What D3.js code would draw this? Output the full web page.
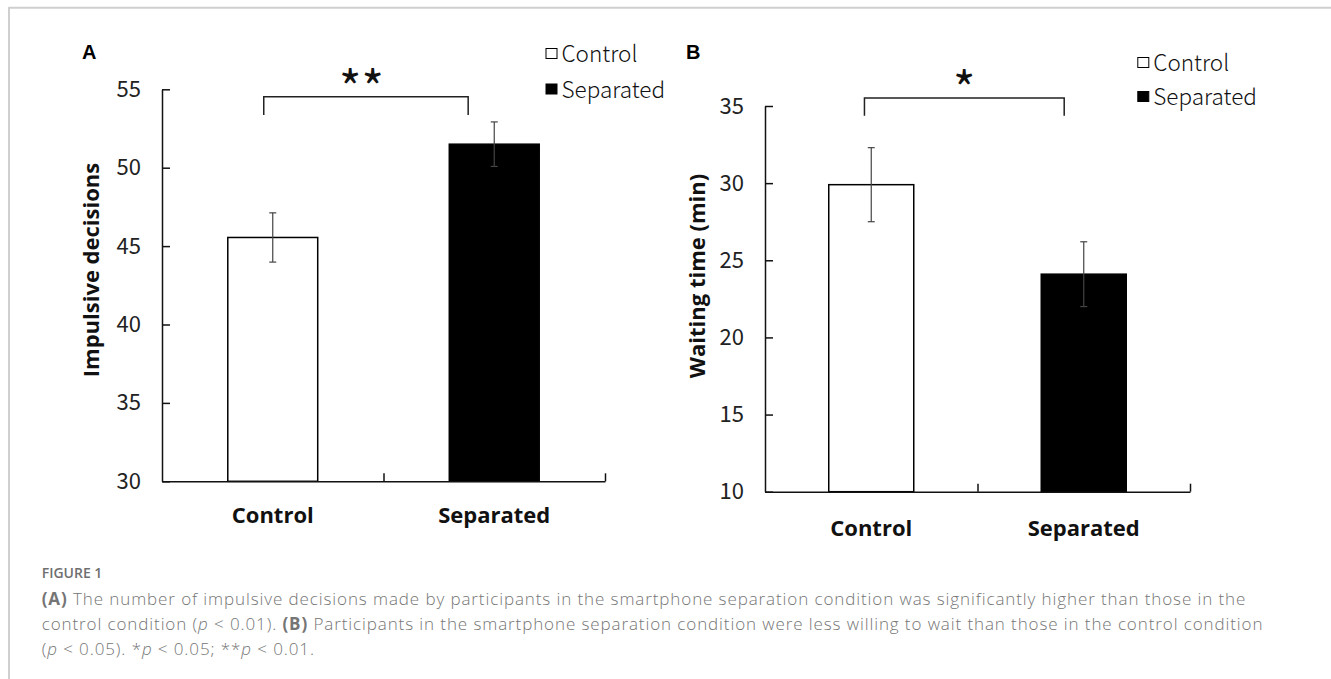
<!DOCTYPE html>
<html>
<head>
<meta charset="utf-8">
<script src="https://cdn.jsdelivr.net/npm/d3@7"></script>
<style>
body { margin: 0; background: #fff; }
.ticks text { font-family: "Noto Sans CJK SC", "Noto Sans", sans-serif; font-size: 22px; fill: #222; }
.cat text { font-family: "Open Sans", sans-serif; font-weight: 700; font-size: 22px; fill: #111; }
</style>
</head>
<body>
<svg id="fig" width="1331" height="679"></svg>
<script>
// values
var categories = ["Control", "Separated"];
var impulsiveMean = [45.55, 51.5];
var impulsiveErr = [1.57, 1.42];
var waitingMean = [29.9, 24.1];
var waitingErr = [2.4, 2.1];
var impulsiveTicks = [30, 35, 40, 45, 50, 55];
var waitingTicks = [10, 15, 20, 25, 30, 35];
var barFills = ["#fff", "#000"];

var captionTitle = "FIGURE 1";
var captionLines = [
  [["(A)", "b"], [" The number of impulsive decisions made by participants in the smartphone separation condition was significantly higher than those in the", ""]],
  [["control condition (", ""], ["p", "i"], [" < 0.01). ", ""], ["(B)", "b"], [" Participants in the smartphone separation condition were less willing to wait than those in the control condition", ""]],
  [["(", ""], ["p", "i"], [" < 0.05). *", ""], ["p", "i"], [" < 0.05; **", ""], ["p", "i"], [" < 0.01.", ""]]
];

var svg = d3.select("#fig");

// page frame
svg.append("line").attr("x1", 9).attr("x2", 1331).attr("y1", 7.7).attr("y2", 7.7)
  .style("stroke", "#cfcfcf").style("stroke-width", 2);
svg.append("line").attr("x1", 9).attr("x2", 9).attr("y1", 7).attr("y2", 679)
  .style("stroke", "#cfcfcf").style("stroke-width", 2);

var panels = [
  {letter: "A", title: "Impulsive decisions", means: impulsiveMean, errs: impulsiveErr,
   ticks: impulsiveTicks, sig: "**",
   x0: 162, x1: 605, yTop: 89.3, yBot: 481.3, pad: 0.594,
   titleX: 99, titleY: 270, letterX: 82, letterY: 59, labelPad: 26,
   legendX: 545.5, legendY: [62, 97.5],
   bracket: {top: 54.53, drop: 53.36, l: 0.4, r: 0.21}, sigY: 106, sigShift: -4.5},
  {letter: "B", title: "Waiting time (min)", means: waitingMean, errs: waitingErr,
   ticks: waitingTicks, sig: "*",
   x0: 765, x1: 1190, yTop: 106, yBot: 491.7, pad: 0.6,
   titleX: 705, titleY: 276, letterX: 686, letterY: 58.5, labelPad: 29,
   legendX: 1137.3, legendY: [71, 105],
   bracket: {top: 35.52, drop: 34.36, l: 0.42, r: 0.27}, sigY: 107, sigShift: 0}
];

panels.forEach(function(p) {
  var g = svg.append("g");

  var x = d3.scaleBand()
    .domain(categories)
    .range([p.x0, p.x1])
    .paddingInner(p.pad)
    .paddingOuter(p.pad / 2);

  var y = d3.scaleLinear()
    .domain([p.ticks[0], p.ticks[p.ticks.length - 1]])
    .range([p.yBot, p.yTop]);

  // bars
  g.selectAll(".bar")
    .data(categories)
    .enter()
    .append("rect")
      .attr("x", function(d) { return x(d); })
      .attr("y", function(d, i) { return y(p.means[i]); })
      .attr("width", x.bandwidth())
      .attr("height", function(d, i) { return y(p.ticks[0]) - y(p.means[i]); })
      .style("fill", function(d, i) { return barFills[i]; })
      .style("stroke", "#000")
      .style("stroke-width", 1.5);

  // error bars
  var eb = g.selectAll(".err")
    .data(categories)
    .enter()
    .append("g")
      .attr("transform", function(d) { return "translate(" + (x(d) + x.bandwidth() / 2) + ",0)"; })
      .style("stroke", "#444")
      .style("stroke-width", 1.2);
  eb.append("line")
    .attr("y1", function(d, i) { return y(p.means[i] - p.errs[i]); })
    .attr("y2", function(d, i) { return y(p.means[i] + p.errs[i]); });
  [-1, 1].forEach(function(s) {
    eb.append("line")
      .attr("x1", -3.5).attr("x2", 3.5)
      .attr("y1", function(d, i) { return y(p.means[i] + s * p.errs[i]); })
      .attr("y2", function(d, i) { return y(p.means[i] + s * p.errs[i]); });
  });

  // y axis, ticks pointing inward
  g.append("g").attr("class", "ticks")
    .attr("transform", "translate(" + p.x0 + ",0)")
    .call(d3.axisLeft(y).tickValues(p.ticks).tickSizeInner(-8).tickSizeOuter(0).tickPadding(21))
    .call(function(a) { a.selectAll("path, line").style("stroke", "#111").style("stroke-width", 1.5); });

  // x axis line with ticks at category boundaries
  var bounds = d3.scaleLinear().domain([0, categories.length]).range([p.x0, p.x1]);
  g.append("g")
    .attr("transform", "translate(0," + p.yBot + ")")
    .call(d3.axisBottom(bounds).tickValues(d3.range(1, categories.length + 1))
      .tickSizeInner(-8).tickSizeOuter(0).tickFormat(""))
    .call(function(a) { a.selectAll("path, line").style("stroke", "#111").style("stroke-width", 1.5); });

  // category labels
  g.append("g").attr("class", "cat")
    .attr("transform", "translate(0," + p.yBot + ")")
    .call(d3.axisBottom(x).tickSize(0).tickPadding(p.labelPad))
    .select(".domain").remove();

  // axis title
  g.append("text")
    .attr("transform", "translate(" + p.titleX + "," + p.titleY + ") rotate(-90)")
    .attr("text-anchor", "middle")
    .style("font-family", "'Open Sans', sans-serif")
    .style("font-weight", 700)
    .style("font-size", "22px")
    .style("fill", "#111")
    .text(p.title);

  // panel letter
  g.append("text")
    .attr("x", p.letterX).attr("y", p.letterY)
    .style("font-family", "'Liberation Sans', Arial, sans-serif")
    .style("font-weight", 700)
    .style("font-size", "20px")
    .text(p.letter);

  // significance bracket
  var bl = x(categories[0]) + x.bandwidth() * p.bracket.l;
  var br = x(categories[1]) + x.bandwidth() * p.bracket.r;
  g.append("path")
    .attr("d", d3.line()([[bl, y(p.bracket.drop)], [bl, y(p.bracket.top)], [br, y(p.bracket.top)], [br, y(p.bracket.drop)]]))
    .style("fill", "none")
    .style("stroke", "#222")
    .style("stroke-width", 1.5);
  g.append("text")
    .attr("x", (bl + br) / 2 + p.sigShift)
    .attr("y", p.sigY)
    .attr("text-anchor", "middle")
    .style("font-family", "'Noto Sans CJK SC', sans-serif")
    .style("font-size", "48px")
    .style("fill", "#111")
    .text(p.sig);

  // legend
  var lg = g.selectAll(".leg")
    .data(categories)
    .enter()
    .append("g")
      .attr("transform", function(d, i) { return "translate(" + p.legendX + "," + p.legendY[i] + ")"; });
  lg.append("rect")
    .attr("x", 0.5).attr("y", -13.5)
    .attr("width", 11).attr("height", 10)
    .style("fill", function(d, i) { return barFills[i]; })
    .style("stroke", "#000")
    .style("stroke-width", 1);
  lg.append("text")
    .attr("x", 16)
    .style("font-family", "'Noto Sans CJK SC', sans-serif")
    .style("font-weight", 300)
    .style("font-size", "22.5px")
    .style("fill", "#111")
    .text(function(d) { return d; });
});

// caption
svg.append("text")
  .attr("x", 41.7).attr("y", 578)
  .style("font-family", "'Open Sans', sans-serif")
  .style("font-weight", 600)
  .style("font-size", "14px")
  .style("fill", "#6f6f6f")
  .text(captionTitle);

captionLines.forEach(function(line, li) {
  var t = svg.append("text")
    .attr("x", 41.7).attr("y", 605 + li * 25)
    .style("font-family", "'Open Sans', sans-serif")
    .style("font-size", "17px")
    .style("letter-spacing", "0.9px")
    .style("fill", "#757575");
  line.forEach(function(seg) {
    t.append("tspan")
      .style("font-weight", seg[1] == "b" ? 700 : 300)
      .style("font-style", seg[1] == "i" ? "italic" : "normal")
      .text(seg[0]);
  });
});
</script>
</body>
</html>
